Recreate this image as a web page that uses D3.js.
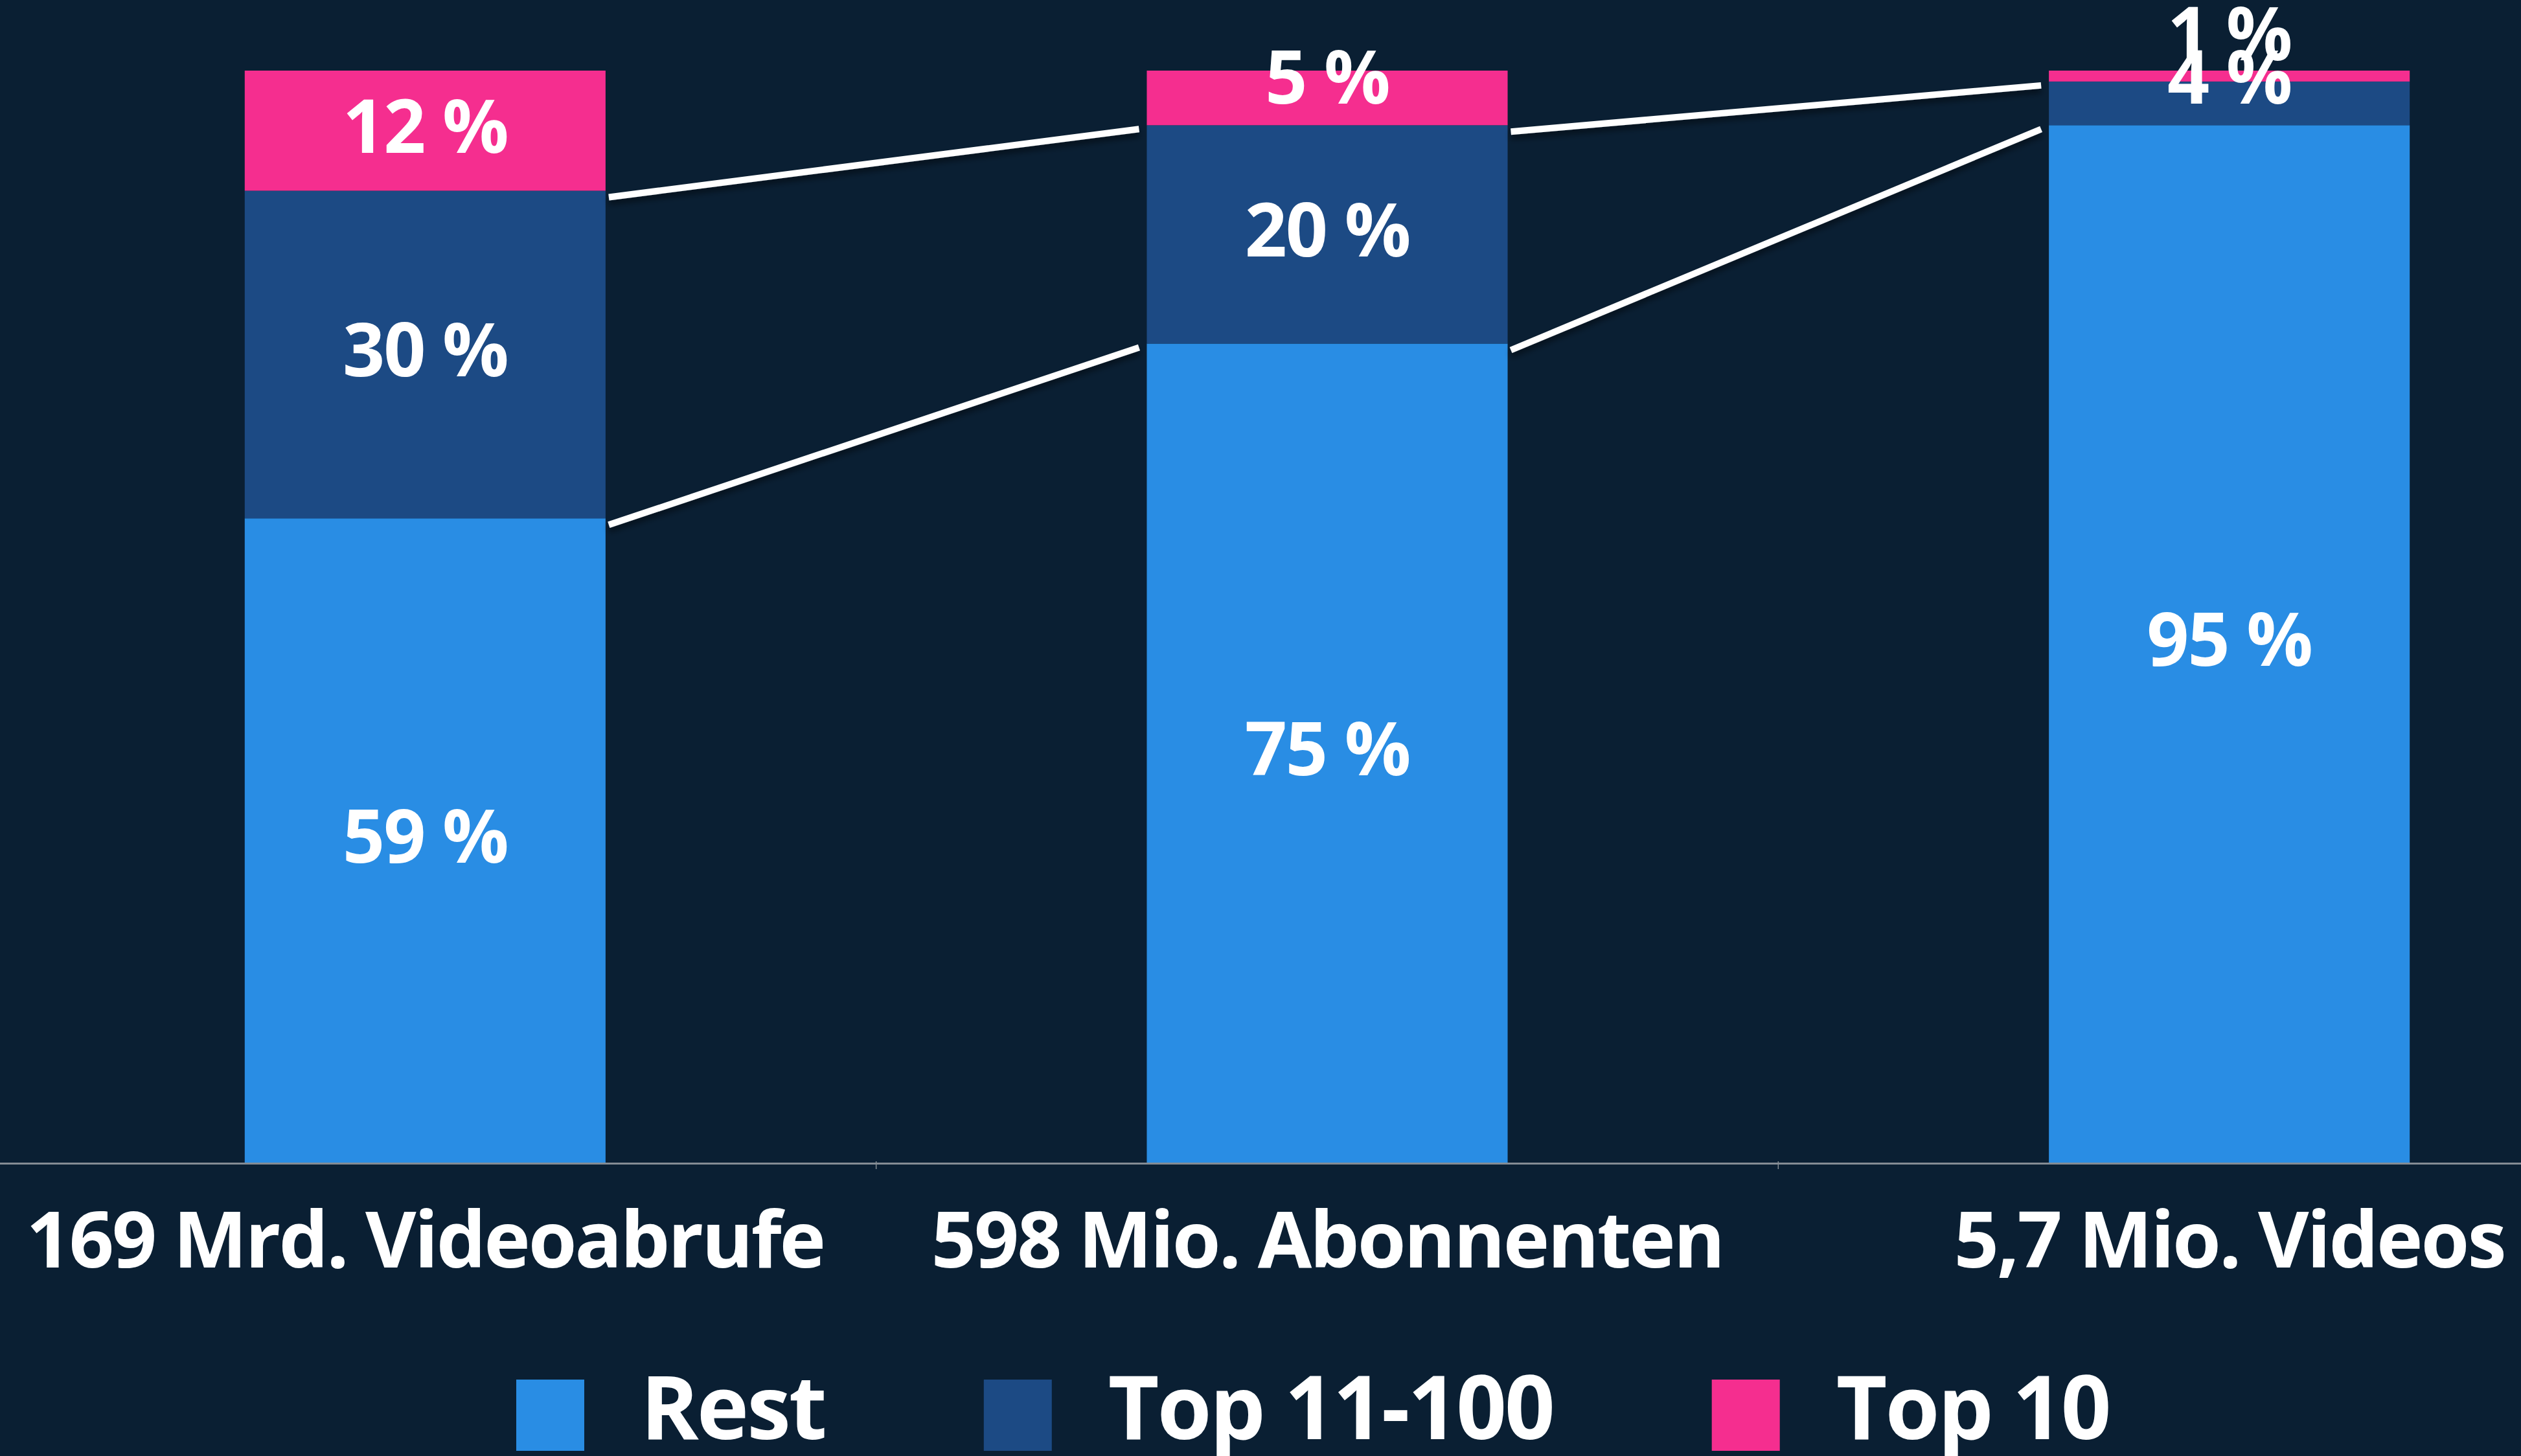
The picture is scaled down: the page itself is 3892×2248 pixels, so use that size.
<!DOCTYPE html>
<html>
<head>
<meta charset="utf-8">
<script src="https://cdn.jsdelivr.net/npm/d3@7"></script>
<style>
  html, body { margin: 0; padding: 0; background: #0a1f33; }
  svg { display: block; }
  text { font-family: "Open Sans", "Noto Sans", sans-serif; font-weight: 700; fill: #ffffff; }
</style>
</head>
<body>
<script>
// chart data
var categories = ["169 Mrd. Videoabrufe", "598 Mio. Abonnenten", "5,7 Mio. Videos"]
var seriesNames = ["Rest", "Top 11-100", "Top 10"]
var rest = [59, 75, 95]
var top11to100 = [30, 20, 4]
var top10 = [12, 5, 1]
var colors = ["#298de4", "#1c4a84", "#f52e8f"]

var width = 3892, height = 2248
var plotTop = 109, plotBottom = 1795

var rows = categories.map(function(c, i) {
  return {cat: c, "Rest": rest[i], "Top 11-100": top11to100[i], "Top 10": top10[i]}
})
var stacked = d3.stack().keys(seriesNames)(rows)

var svg = d3.select("body").append("svg")
  .attr("width", width)
  .attr("height", height)

svg.append("rect").attr("width", width).attr("height", height).attr("fill", "#0a1f33")

var defs = svg.append("defs")
defs.append("clipPath").attr("id", "plotclip")
  .append("rect").attr("x", 0).attr("y", plotTop).attr("width", width).attr("height", plotBottom - plotTop)
var shadow = defs.append("filter").attr("id", "shadow")
  .attr("x", "-5%").attr("y", "-50%").attr("width", "110%").attr("height", "300%")
shadow.append("feDropShadow")
  .attr("dx", 0).attr("dy", 7).attr("stdDeviation", 5)
  .attr("flood-color", "#000000").attr("flood-opacity", 0.45)

// scales
var x = d3.scaleBand().domain(categories).range([-40, 4138]).padding(0)
var barWidth = x.bandwidth() * 0.4
var y = d3.scaleLinear().domain([0, 100]).range([plotBottom, plotTop])

function barLeft(c) { return x(c) + (x.bandwidth() - barWidth) / 2 }

// bars, clipped to 100 %
var bars = svg.append("g").attr("clip-path", "url(#plotclip)")
bars.selectAll("g")
  .data(stacked)
  .enter()
  .append("g")
  .attr("fill", function(d, i) { return colors[i] })
  .selectAll("rect")
  .data(function(d) { return d })
  .enter()
  .append("rect")
  .attr("x", function(d) { return barLeft(d.data.cat) })
  .attr("width", barWidth)
  .attr("y", function(d) { return y(d[1]) })
  .attr("height", function(d) { return y(d[0]) - y(d[1]) })

// x axis: line across the whole width, ticks between categories
var axis = svg.append("g")
axis.append("line")
  .attr("x1", 0).attr("x2", width)
  .attr("y1", plotBottom + 1.5).attr("y2", plotBottom + 1.5)
  .attr("stroke", "#848c94").attr("stroke-width", 3)
axis.selectAll("line.tick")
  .data(categories.slice(0, -1))
  .enter()
  .append("line")
  .attr("class", "tick")
  .attr("x1", function(c) { return x(c) + x.bandwidth() })
  .attr("x2", function(c) { return x(c) + x.bandwidth() })
  .attr("y1", plotBottom - 2).attr("y2", plotBottom + 10)
  .attr("stroke", "#848c94").attr("stroke-width", 1.5)

axis.selectAll("text")
  .data(categories)
  .enter()
  .append("text")
  .attr("x", function(c) { return x(c) + x.bandwidth() / 2 })
  .attr("y", 1957)
  .attr("text-anchor", "middle")
  .style("font-size", "121px")
  .style("letter-spacing", "-3px")
  .text(function(c) { return c })

// connecting lines between the stack boundaries
var lineLevels = [0, 1]
var lines = svg.append("g").attr("filter", "url(#shadow)")
lineLevels.forEach(function(k) {
  for (let i = 0; i < categories.length - 1; i++) {
    var a = stacked[k][i], b = stacked[k][i + 1]
    lines.append("line")
      .attr("x1", barLeft(categories[i]) + barWidth + 5)
      .attr("y1", y(a[1]) + 10)
      .attr("x2", barLeft(categories[i + 1]) - 12)
      .attr("y2", y(b[1]) + 6)
      .attr("stroke", "#ffffff")
      .attr("stroke-width", 10)
  }
})

// value labels
var labels = svg.append("g")
stacked.forEach(function(series) {
  series.forEach(function(d) {
    var top = Math.max(y(d[1]), plotTop)
    var bottom = y(d[0])
    var h = bottom - top
    var base = h < 120 ? bottom - 33 : (top + bottom) / 2 + 34
    labels.append("text")
      .attr("x", barLeft(d.data.cat) + barWidth / 2)
      .attr("y", base)
      .attr("text-anchor", "middle")
      .style("font-size", "114px")
      .style("letter-spacing", "-2px")
      .text((d[1] - d[0]) + " %")
  })
})

// legend
var legend = svg.append("g")
var legendX = 797
seriesNames.forEach(function(name, i) {
  legend.append("rect")
    .attr("x", legendX).attr("y", 2130)
    .attr("width", 105).attr("height", 110)
    .attr("fill", colors[i])
  var t = legend.append("text")
    .attr("x", legendX + 105 + 87)
    .attr("y", 2222)
    .style("font-size", "136px")
    .style("letter-spacing", "-3px")
    .text(name)
  legendX = legendX + 105 + 87 + t.node().getComputedTextLength() + 245
})
</script>
</body>
</html>
